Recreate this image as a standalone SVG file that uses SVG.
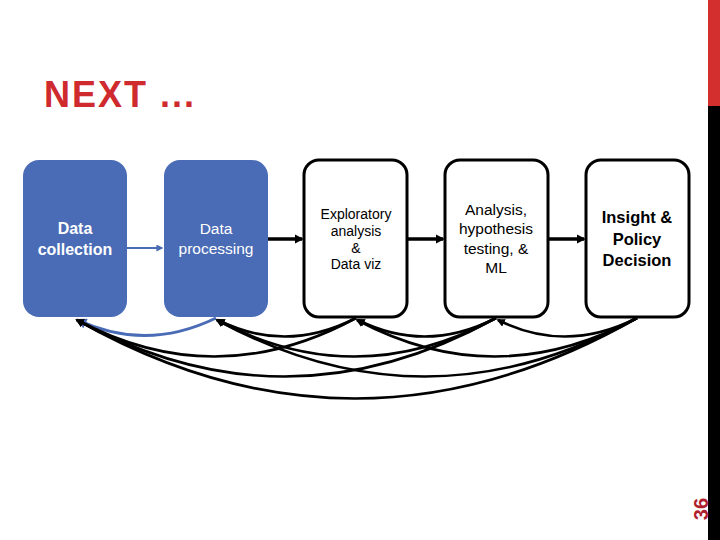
<svg xmlns="http://www.w3.org/2000/svg" width="720" height="540" viewBox="0 0 720 540">
<style>
.blue{fill:#4A6BB5;}
.wbox{fill:#fff;stroke:#000;stroke-width:3;}
.t{font-family:"Liberation Sans",Arial,sans-serif;text-anchor:middle;}
.fb{stroke:#000;stroke-width:2.6;fill:none;marker-end:url(#ah);}
.fw{stroke:#000;stroke-width:3.5;fill:none;marker-end:url(#ah2);}
</style>
<defs>
<marker id="ah" viewBox="0 0 10 10" refX="8" refY="5" markerWidth="3.2" markerHeight="3.2" orient="auto" markerUnits="strokeWidth"><path d="M0,0 L10,5 L0,10 z" fill="#000"/></marker>
<marker id="ah2" viewBox="0 0 10 10" refX="8" refY="5" markerWidth="2.6" markerHeight="2.6" orient="auto" markerUnits="strokeWidth"><path d="M0,0 L10,5 L0,10 z" fill="#000"/></marker>
<marker id="ahb" viewBox="0 0 10 10" refX="8" refY="5" markerWidth="3.5" markerHeight="3.5" orient="auto" markerUnits="strokeWidth"><path d="M0,0 L10,5 L0,10 z" fill="#4A6BB5"/></marker>
</defs>
<rect width="720" height="540" fill="#fff"/>
<rect x="708" y="0" width="12" height="106" fill="#D32F2F"/>
<rect x="708" y="106" width="12" height="434" fill="#000"/>
<text x="44" y="107" font-family="Liberation Sans,Arial,sans-serif" font-weight="bold" font-size="36" letter-spacing="2" fill="#CF2A2E">NEXT ...</text>
<text transform="translate(708,509) rotate(-90)" font-family="Liberation Sans,Arial,sans-serif" font-weight="bold" font-size="20" fill="#B0202C" text-anchor="middle">36</text>

<g id="connectors">
<line x1="127" y1="248" x2="162" y2="248" stroke="#4A6BB5" stroke-width="2" marker-end="url(#ahb)"/>
<line class="fw" x1="268" y1="239" x2="302" y2="239"/>
<line class="fw" x1="408" y1="239" x2="443" y2="239"/>
<line class="fw" x1="549" y1="239" x2="584" y2="239"/>
<path d="M216,318 Q146,352 78,320" stroke="#4A6BB5" stroke-width="3" fill="none" marker-end="url(#ahb)"/>
<path class="fb" d="M356,318 Q286,354 218,320"/>
<path class="fb" d="M496,318 Q426,354 358,320"/>
<path class="fb" d="M637,318 Q566,354 498,320"/>
<path class="fb" d="M356,318 Q216,394 77,320"/>
<path class="fb" d="M496,318 Q356,394 217,320"/>
<path class="fb" d="M637,318 Q496,394 357,320"/>
<path class="fb" d="M496,318 Q286,434 77,320"/>
<path class="fb" d="M637,318 Q426,434 217,320"/>
<path class="fb" d="M637,318 Q356,478 77,320"/>
</g>

<g id="n1"><rect class="blue" x="23" y="160" width="104" height="157" rx="16"/>
<text class="t" x="75" y="234" font-size="16" font-weight="bold" fill="#fff">Data</text>
<text class="t" x="75" y="255" font-size="16" font-weight="bold" fill="#fff">collection</text></g>
<g id="n2"><rect class="blue" x="164" y="160" width="104" height="157" rx="16"/>
<text class="t" x="216" y="234" font-size="15.5" fill="#fff">Data</text>
<text class="t" x="216" y="254" font-size="15.5" fill="#fff">processing</text></g>
<g id="n3"><rect class="wbox" x="304" y="160" width="103" height="157" rx="15"/>
<text class="t" x="356" y="219" font-size="14">Exploratory</text>
<text class="t" x="356" y="236" font-size="14">analysis</text>
<text class="t" x="356" y="253" font-size="14">&amp;</text>
<text class="t" x="356" y="269" font-size="14">Data viz</text></g>
<g id="n4"><rect class="wbox" x="445" y="160" width="103" height="157" rx="15"/>
<text class="t" x="496" y="215" font-size="15.5">Analysis,</text>
<text class="t" x="496" y="234" font-size="15.5">hypothesis</text>
<text class="t" x="496" y="254" font-size="15.5">testing, &amp;</text>
<text class="t" x="496" y="273" font-size="15.5">ML</text></g>
<g id="n5"><rect class="wbox" x="586" y="160" width="103" height="157" rx="15"/>
<text class="t" x="637" y="223" font-size="16.5" font-weight="bold">Insight &amp;</text>
<text class="t" x="637" y="245" font-size="16.5" font-weight="bold">Policy</text>
<text class="t" x="637" y="266" font-size="16.5" font-weight="bold">Decision</text></g>
</svg>
